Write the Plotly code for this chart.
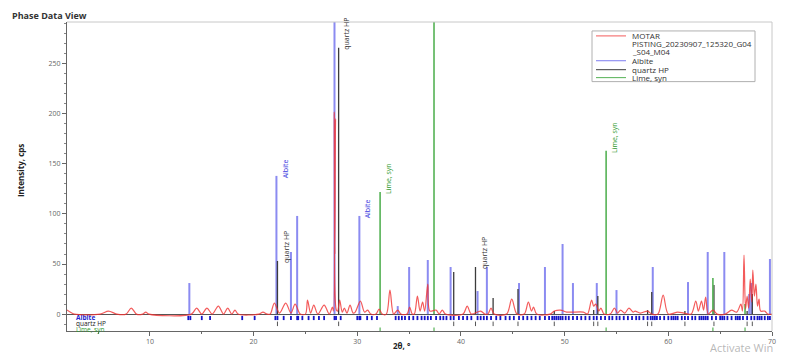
import plotly.graph_objects as go

# ---------------- data ----------------
pattern_x = [2.0, 2.3, 2.7, 5.2, 6.0, 6.8, 7.7, 8.2, 8.7, 9.3, 9.6, 9.9,
             14.0, 14.5, 15.0, 15.5, 16.0, 16.6, 17.1, 17.5, 17.9, 18.2, 18.5,
             20.5, 20.9, 21.3, 21.6, 22.0, 22.5, 23.1, 23.6, 24.0, 24.5,
             25.0, 25.2, 25.5, 25.8, 26.2, 26.8, 27.3, 27.6, 27.7, 27.78, 27.84, 27.9, 27.98,
             28.1, 28.3, 28.55, 28.75, 29.0, 29.3, 29.6, 29.8, 30.3, 30.7, 31.0, 31.3,
             31.8, 32.1, 32.4, 32.8, 33.15, 33.5, 33.9, 34.2, 34.8, 35.05, 35.3, 35.5,
             35.8, 36.05, 36.3, 36.5, 36.8, 37.0, 37.6, 37.9, 38.2, 38.5,
             40.2, 40.6, 41.0, 41.9, 42.3, 42.6, 42.9, 43.2, 44.4, 44.9, 45.4,
             46.1, 46.5, 46.8, 47.0, 47.3, 48.6, 49.0, 49.6, 50.2, 51.8, 52.2,
             52.6, 52.8, 53.0, 53.3, 53.5, 53.8, 54.4, 54.8, 55.1, 55.4, 55.8, 56.2,
             56.6, 56.8, 57.3, 58.0, 58.4, 59.0, 59.5, 60.0, 60.9, 61.5, 62.2,
             62.65, 62.9, 63.2, 63.4, 63.6, 63.85, 64.3, 64.7, 65.5, 66.1, 66.6,
             67.0, 67.15, 67.3, 67.45, 67.6, 67.75, 67.9, 68.05, 68.15, 68.3, 68.45,
             68.6, 68.75, 68.9, 69.3, 69.6, 70.0]
pattern_y = [4, 2, 0, 0, 3, 0, 0, 6, 0, 0, 2, 0,
             0, 6, 0, 6, 0, 8, 0, 6, 0, 4, 0,
             0, 2, 0, 0, 11, 1, 11, 1, 10, 0,
             0, 14, 1, 9, 0, 9, 0, 7, 3, 202, 60, 195, 4,
             3, 14, 2, 6, 1, 9, 1, 2, 13, 2, 4, 0,
             0, 5, 0, 0, 24, 0, 4, 0, 0, 7, 0, 0,
             18, 3, 12, 3, 30, 3, 4, 0, 4, 0,
             0, 8, 0, 3, 0, 0, 6, 0, 0, 15, 0,
             0, 12, 3, 7, 0, 0, 3, 4, 2, 2, 0,
             14, 8, 10, 3, 6, 0, 0, 6, 1, 4, 1, 6,
             2, 3, 1, 3, 0, 0, 19, 0, 2, 1, 0,
             13, 3, 13, 4, 17, 0, 4, 0, 0, 4, 2,
             10, 3, 59, 5, 18, 6, 35, 12, 44, 18, 30,
             8, 15, 3, 3, 0, 0]

albite_pos = [13.8, 22.2, 23.6, 24.2, 27.8, 30.2, 33.9, 35.0, 36.8, 39.0, 41.6, 42.5,
              45.6, 48.1, 49.8, 50.8, 53.1, 55.0, 58.5, 61.9, 63.8, 65.4, 67.8, 68.0, 69.8]
albite_int = [31, 138, 62, 98, 320, 98, 8, 47, 54, 47, 23, 47,
              31, 47, 70, 31, 31, 24, 47, 32, 62, 62, 20, 31, 55]
albite_ticks = [13.7, 13.9, 15.0, 15.8, 18.9, 20.1, 22.1, 22.3, 22.9, 23.6, 24.2, 24.3, 24.7,
                25.3, 25.8, 26.3, 26.8, 27.8, 27.95, 28.4, 30.0, 30.2, 30.3, 30.95, 31.4, 31.9,
                33.7, 34.0, 34.3, 34.6, 35.0, 35.4, 35.8, 36.2, 36.5, 36.8, 37.1, 37.6, 38.0,
                38.3, 38.6, 39.0, 39.3, 39.8, 40.2, 40.6, 41.0, 41.6, 41.9, 42.2, 42.5, 42.9,
                43.4, 43.8, 44.3, 44.7, 45.1, 45.6, 46.0, 46.4, 46.8, 47.2, 47.6, 48.1, 48.5,
                48.8, 49.0, 49.2, 49.4, 49.6, 49.8, 50.1, 50.4, 50.8, 51.2, 51.6, 52.0, 52.4,
                52.8, 53.1, 53.5, 53.9, 54.3, 54.6, 55.0, 55.3, 55.7, 56.1, 56.5, 56.9, 57.2,
                57.6, 58.0, 58.3, 58.5, 58.7, 58.9, 59.2, 59.6, 60.0, 60.3, 60.5, 60.7, 60.9,
                61.3, 61.6, 61.9, 62.3, 62.6, 63.0, 63.2, 63.4, 63.6, 63.8, 64.2, 64.6, 65.0,
                65.2, 65.4, 65.7, 66.1, 66.5, 66.7, 66.9, 67.2, 67.6, 68.0, 68.3, 68.6, 68.8,
                69.0, 69.3, 69.6, 69.8]

quartz_pos = [22.3, 28.2, 39.3, 41.4, 43.1, 45.5, 49.0, 52.8, 53.2, 58.0, 58.4, 61.6, 64.4, 67.6, 68.1]
quartz_int = [53, 266, 42, 47, 16, 25, 3, 4, 18, 4, 22, 3, 29, 3, 20]

lime_pos = [32.2, 37.4, 54.0, 64.3, 67.4]
lime_int = [122, 360, 163, 36, 10]

labels_albite = [22.2, 30.2]
labels_quartz = [22.3, 28.2, 41.4]
labels_lime = [32.2, 54.0]

# ---------------- styling ----------------
RED = "rgba(240,50,50,0.8)"
BLUE = "rgba(110,110,238,0.8)"
BLUE_DARK = "#1515c8"
GREY = "#3c3c3c"
GREEN = "#55b255"
FONT = "Open Sans"

# plot area in pixels (for paper conversions)
L, R, T, B = 67, 772, 22, 333
W, H = R - L, B - T
def px(x):
    return (x - L) / W
def py(y):
    return (B - y) / H

def sticks(pos, vals, y0=0):
    xs, ys = [], []
    for p, v in zip(pos, vals):
        xs += [p, p, None]
        ys += [y0, v, None]
    return xs, ys

def ticks(pos, y0, y1):
    xs, ys = [], []
    for p in pos:
        xs += [p, p, None]
        ys += [y0, y1, None]
    return xs, ys

fig = go.Figure()

ax, ay = sticks(albite_pos, albite_int)
fig.add_trace(go.Scatter(x=ax, y=ay, mode="lines", line=dict(color=BLUE, width=2), hoverinfo="skip"))
qx, qy = sticks(quartz_pos, quartz_int)
fig.add_trace(go.Scatter(x=qx, y=qy, mode="lines", line=dict(color=GREY, width=1.3), hoverinfo="skip"))
lx, ly = sticks(lime_pos, lime_int)
fig.add_trace(go.Scatter(x=lx, y=ly, mode="lines", line=dict(color=GREEN, width=1.6), hoverinfo="skip"))

fig.add_trace(go.Scatter(x=pattern_x, y=pattern_y, mode="lines",
                         line=dict(color=RED, width=1.2, shape="spline", smoothing=0.9)))

# phase strips under zero
tx, ty = ticks(albite_ticks, -1.8, -6.0)
fig.add_trace(go.Scatter(x=tx, y=ty, mode="lines", line=dict(color=BLUE_DARK, width=1.8), hoverinfo="skip"))
tx, ty = ticks(quartz_pos, -7.5, -12.0)
fig.add_trace(go.Scatter(x=tx, y=ty, mode="lines", line=dict(color="#555555", width=1), hoverinfo="skip"))
tx, ty = ticks(lime_pos, -13.5, -17.0)
fig.add_trace(go.Scatter(x=tx, y=ty, mode="lines", line=dict(color=GREEN, width=1.2), hoverinfo="skip"))

ann = []
def lookup(pos_list, val_list, p):
    return val_list[pos_list.index(p)]

for p in labels_albite:
    ann.append(dict(x=p, y=lookup(albite_pos, albite_int, p), text="Albite", textangle=-90,
                    xanchor="left", yanchor="bottom", xshift=2, yshift=-4, showarrow=False,
                    font=dict(family=FONT, size=7, color="#3a3ae0")))
for p in labels_quartz:
    ann.append(dict(x=p, y=lookup(quartz_pos, quartz_int, p), text="quartz HP", textangle=-90,
                    xanchor="left", yanchor="bottom", xshift=2, yshift=-4, showarrow=False,
                    font=dict(family=FONT, size=7, color="#333333")))
for p in labels_lime:
    ann.append(dict(x=p, y=lookup(lime_pos, lime_int, p), text="Lime, syn", textangle=-90,
                    xanchor="left", yanchor="bottom", xshift=2, yshift=-4, showarrow=False,
                    font=dict(family=FONT, size=7, color="#2e9a2e")))

# strip labels
ann.append(dict(x=2.7, y=-3.4, text="<b>Albite</b>", xanchor="left", yanchor="middle", showarrow=False,
                font=dict(family=FONT, size=6.5, color="#2525d0")))
ann.append(dict(x=2.7, y=-9.6, text="quartz HP", xanchor="left", yanchor="middle", showarrow=False,
                font=dict(family=FONT, size=6.5, color="#222222")))
ann.append(dict(x=2.7, y=-15.6, text="Lime, syn", xanchor="left", yanchor="middle", showarrow=False,
                font=dict(family=FONT, size=6.5, color="#2e9a2e")))

# titles
ann.append(dict(xref="paper", yref="paper", x=px(20), y=py(172), text="<b>Intensity, cps</b>",
                textangle=-90, showarrow=False, xanchor="center", yanchor="middle",
                font=dict(family=FONT, size=8, color="#222")))
ann.append(dict(xref="paper", yref="paper", x=px(402), y=py(348), text="<b>2θ, °</b>",
                showarrow=False, xanchor="center", yanchor="middle",
                font=dict(family=FONT, size=8, color="#222")))
ann.append(dict(xref="paper", yref="paper", x=px(10), y=py(15), text="<b>Phase Data View</b>",
                showarrow=False, xanchor="left", yanchor="middle",
                font=dict(family=FONT, size=9, color="#333")))
ann.append(dict(xref="paper", yref="paper", x=px(708), y=py(350), text="Activate Win",
                showarrow=False, xanchor="left", yanchor="middle",
                font=dict(family=FONT, size=11, color="rgba(160,160,160,0.75)")))

# manual legend
shapes = [
    dict(type="rect", xref="paper", yref="paper", x0=px(592), x1=px(755), y0=py(82), y1=py(31),
         line=dict(color="#b0b0b0", width=1), fillcolor="white", layer="above"),
    dict(type="line", xref="paper", yref="paper", x0=1, x1=1, y0=0, y1=1,
         line=dict(color="#c8c8c8", width=1)),
    dict(type="line", xref="paper", yref="paper", x0=0, x1=1, y0=1, y1=1,
         line=dict(color="#c8c8c8", width=1)),
]
legend_entries = [("MOTAR", RED, 36), ("Albite", "rgba(110,110,238,0.9)", 61),
                  ("quartz HP", GREY, 70), ("Lime, syn", GREEN, 78)]
for name, col, yy in legend_entries:
    shapes.append(dict(type="line", xref="paper", yref="paper", x0=px(596), x1=px(626),
                       y0=py(yy), y1=py(yy), line=dict(color=col, width=1), layer="above"))
legend_texts = [("MOTAR", 36), ("PISTING_20230907_125320_G04", 44), ("_S04_M04", 52),
                ("Albite", 61), ("quartz HP", 70), ("Lime, syn", 78)]
for txt, yy in legend_texts:
    ann.append(dict(xref="paper", yref="paper", x=px(630), y=py(yy), text=txt, showarrow=False,
                    xanchor="left", yanchor="middle", font=dict(family=FONT, size=8, color="#333")))

fig.update_layout(
    width=790, height=358,
    margin=dict(l=L, r=790 - R, t=T, b=358 - B),
    paper_bgcolor="white", plot_bgcolor="white",
    showlegend=False,
    annotations=ann, shapes=shapes,
    font=dict(family=FONT, size=7, color="#666"),
)
fig.update_xaxes(range=[2, 70], dtick=10, tick0=0, showgrid=False, zeroline=False,
                 showline=True, linecolor="#666", linewidth=1,
                 ticks="outside", ticklen=4, tickcolor="#666",
                 minor=dict(dtick=5, ticks="outside", ticklen=2, tickcolor="#666"),
                 tickfont=dict(size=7, color="#666"))
fig.update_yaxes(range=[-16.9, 291.7], dtick=50, tick0=0, showgrid=False,
                 zeroline=True, zerolinecolor="#555", zerolinewidth=1,
                 showline=True, linecolor="#666", linewidth=1,
                 ticks="outside", ticklen=4, tickcolor="#666",
                 minor=dict(dtick=10, ticks="outside", ticklen=2, tickcolor="#888"),
                 tickfont=dict(size=7, color="#666"))

fig.write_html("out.html", config={"displayModeBar": False},
               post_script="document.body.style.margin='0';document.body.style.overflow='hidden';")
